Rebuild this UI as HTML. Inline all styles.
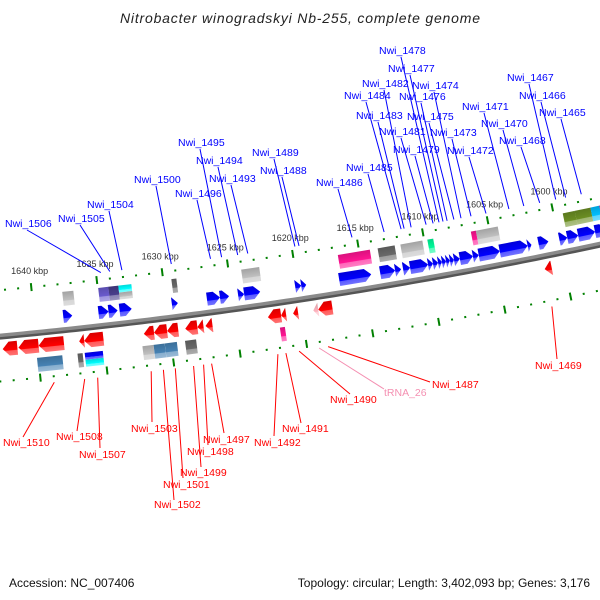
<!DOCTYPE html>
<html><head><meta charset="utf-8">
<style>
html,body{margin:0;padding:0;background:#fff;}
svg{display:block;}
text{font-family:"Liberation Sans",sans-serif;}
</style></head>
<body>
<svg id="chart" width="600" height="600" viewBox="0 0 600 600" xmlns="http://www.w3.org/2000/svg">
<defs id="defs"></defs>
<text x="300" y="23" text-anchor="middle" font-size="14" font-style="italic" fill="#222" textLength="360">Nitrobacter winogradskyi Nb-255, complete genome</text>
<g id="ticks"></g>
<g id="backbone"></g>
<g id="cogs"></g>
<g id="genes"></g>
<g id="labels"></g>
<text x="9" y="587" font-size="12" fill="#111">Accession: NC_007406</text>
<text x="590" y="587" text-anchor="end" font-size="12" fill="#111">Topology: circular; Length: 3,402,093 bp; Genes: 3,176</text>
</svg>
<script>
// ---- data (kbp) ----
const fwdStart=[1637.82,1635.15,1634.39,1633.55,1629.58,1626.91,1625.92,1624.54,1624.08,1620.19,1619.73,1616.83,1613.70,1612.56,1611.95,1611.41,1610.04,1609.66,1609.27,1608.97,1608.66,1608.36,1608.05,1607.60,1606.60,1606.15,1604.54,1602.40,1601.56,1599.96,1599.35,1598.51,1597.21];
const fwdEnd=[1637.14,1634.39,1633.70,1632.63,1629.12,1625.92,1625.23,1624.08,1622.86,1619.73,1619.35,1614.39,1612.56,1612.10,1611.41,1610.04,1609.66,1609.27,1608.97,1608.66,1608.36,1608.05,1607.60,1606.60,1606.15,1604.54,1602.40,1602.10,1600.80,1599.35,1598.51,1597.21,1596.30];
const revStart=[1642.60,1641.41,1639.89,1636.83,1636.45,1631.95,1631.18,1630.19,1628.82,1627.90,1627.29,1622.56,1621.56,1620.65,1618.74,1601.49];
const revEnd=[1641.49,1639.89,1637.98,1636.45,1635.00,1631.18,1630.19,1629.35,1627.90,1627.44,1626.76,1621.56,1621.18,1620.27,1617.67,1600.95];
const trnaStart=[1619.12];
const trnaEnd=[1618.74];
const upCogStart=[1637.70,1634.96,1634.19,1633.43,1633.43,1629.38,1624.04,1616.63,1613.58,1611.83,1609.76,1606.41,1606.02,1599.31,1598.39,1597.17,1596.48];
const upCogEnd=[1636.86,1634.19,1633.43,1632.44,1632.44,1629.00,1622.67,1614.19,1612.28,1610.15,1609.31,1606.02,1604.34,1598.39,1597.17,1596.48,1596.00];
const upCogColor=["#C0C0C0","#6A5ACD","#483D8B","#00FFFF","#C0C0C0","#696969","#C0C0C0","#FF1493","#696969","#C0C0C0","#00FA9A","#FF1493","#C0C0C0","#6B8E23","#6B8E23","#00BFFF","#FF1493"];
const upCogRow=["f","f","f","a","b","f","f","f","f","f","f","f","f","f","f","f","f"];
const loCogStart=[1640.11,1637.06,1636.52,1636.52,1632.17,1631.33,1630.49,1628.96,1621.79];
const loCogEnd=[1638.20,1636.67,1635.15,1635.15,1631.33,1630.49,1629.57,1628.12,1621.41];
const loCogColor=["#4682B4","#696969","#0000FF","#00FFFF","#C0C0C0","#4682B4","#4682B4","#696969","#FF1493"];
const loCogRow=["f","f","a","b","f","f","f","f","f"];
const tickMin=1596, tickMax=1643;
const tickLabels=[1600,1605,1610,1615,1620,1625,1630,1635,1640];
const upNames=["Nwi_1506","Nwi_1505","Nwi_1504","Nwi_1500","Nwi_1496","Nwi_1495","Nwi_1494","Nwi_1493","Nwi_1489","Nwi_1488","Nwi_1486","Nwi_1485","Nwi_1484","Nwi_1483","Nwi_1482","Nwi_1481","Nwi_1479","Nwi_1478","Nwi_1477","Nwi_1476","Nwi_1475","Nwi_1474","Nwi_1473","Nwi_1472","Nwi_1471","Nwi_1470","Nwi_1468","Nwi_1467","Nwi_1466","Nwi_1465"];
const upPos=[1634.63,1633.94,1633.02,1629.24,1626.23,1625.38,1624.15,1623.37,1619.75,1619.44,1615.36,1612.89,1611.58,1611.35,1610.81,1609.65,1609.11,1608.65,1608.34,1608.03,1607.50,1606.95,1606.18,1605.02,1603.25,1602.09,1600.86,1599.62,1598.85,1597.63];
const upTX=[5,58,87,134,175,178,196,209,252,260,316,346,344,356,362,379,393,379,388,399,407,412,430,447,462,481,499,507,519,539];
const upTY=[227,222,208,183,197,146,164,182,156,174,186,171,99,119,87,135,153,54,72,100,120,89,136,154,110,127,144,81,99,116];
const loNames=["Nwi_1510","Nwi_1508","Nwi_1507","Nwi_1503","Nwi_1502","Nwi_1501","Nwi_1499","Nwi_1498","Nwi_1497","Nwi_1492","Nwi_1491","Nwi_1490","tRNA_26","Nwi_1487","Nwi_1469"];
const loPos=[1639.0,1636.73,1635.75,1631.74,1630.83,1629.93,1628.56,1627.81,1627.21,1622.22,1621.62,1620.63,1619.12,1618.44,1601.51];
const loTX=[3,56,79,131,154,163,180,187,203,254,282,330,384,432,535];
const loTY=[446,440,458,432,508,488,476,455,443,446,432,403,396,388,369];
const loLX=[23,77,100,152,174,183,201,208,224,274,301,350,384,430,557];
const loLY=[437,431,448,422,500,478,467,445,433,436,423,394,389,382,359];
const loColor=["#FF0000","#FF0000","#FF0000","#FF0000","#FF0000","#FF0000","#FF0000","#FF0000","#FF0000","#FF0000","#FF0000","#FF0000","#F48FB1","#FF0000","#FF0000"];

// ---- geometry ----
const CX=-484, CY=-4824, R0=5182, PHI0=0.1133, K=0.002566, REF=1635;
const NS="http://www.w3.org/2000/svg";
function phi(p){return PHI0+(REF-p)*K;}
function pt(p,d){const r=R0+d,f=phi(p);return [CX+r*Math.sin(f),CY+r*Math.cos(f)];}
function mk(tag,attrs,parent){const e=document.createElementNS(NS,tag);for(const k in attrs)e.setAttribute(k,attrs[k]);parent.appendChild(e);return e;}

const defs=document.getElementById('defs');
const grads={};
function shade(hex,f){const n=parseInt(hex.slice(1),16);let r=n>>16,g=(n>>8)&255,b=n&255;
  if(f>0){r=r+(255-r)*f;g=g+(255-g)*f;b=b+(255-b)*f;}else{r*=1+f;g*=1+f;b*=1+f;}
  return 'rgb('+Math.round(r)+','+Math.round(g)+','+Math.round(b)+')';}
function grad(c){if(grads[c])return grads[c];const id='g'+c.slice(1);
  const lg=mk('linearGradient',{id:id,x1:0,y1:0,x2:0,y2:1},defs);
  mk('stop',{offset:'0','stop-color':shade(c,-0.15)},lg);
  mk('stop',{offset:'0.62','stop-color':c},lg);
  mk('stop',{offset:'0.66','stop-color':shade(c,0.35)},lg);
  mk('stop',{offset:'1','stop-color':shade(c,0.45)},lg);
  grads[c]='url(#'+id+')';return grads[c];}

function feature(parent,p1,p2,d1,d2,color,kind,name){
  const pc=(p1+p2)/2, L=Math.abs(p1-p2)*R0*K, c=pt(pc,0);
  const g=mk('g',{transform:'translate('+c[0].toFixed(2)+','+c[1].toFixed(2)+') rotate('+(-phi(pc)*180/Math.PI).toFixed(3)+')'},parent);
  
  
  const x0=-L/2,x1=L/2,h=Math.min(L,6.5);
  let pts;
  if(kind==='fwd')pts=[[x0,d1],[x1-h,d1],[x1,(d1+d2)/2],[x1-h,d2],[x0,d2]];
  else if(kind==='rev')pts=[[x1,d1],[x0+h,d1],[x0,(d1+d2)/2],[x0+h,d2],[x1,d2]];
  else pts=[[x0,d1],[x1,d1],[x1,d2],[x0,d2]];
  mk('polygon',{points:pts.map(q=>q[0].toFixed(2)+','+q[1].toFixed(2)).join(' '),fill:grad(color)},g);
}

// ticks
const tg=document.getElementById('ticks');
for(let p=tickMin;p<=tickMax;p++){
  [-45,46].forEach(function(d){
    const major=(p%5===0);
    const c=pt(p,d), f=phi(p);
    const t=mk('rect',{x:-1,y:major?-4:-1,width:2,height:major?8:2,fill:'#008000',
      transform:'translate('+c[0].toFixed(2)+','+c[1].toFixed(2)+') rotate('+(-f*180/Math.PI).toFixed(2)+')'},tg);
    
    
  });
}
tickLabels.forEach(function(p){
  const c=pt(p,-61);
  const t=mk('text',{x:c[0].toFixed(1),y:(c[1]+3).toFixed(1),'text-anchor':'middle','font-size':'9',fill:'#333'},tg);
  t.textContent=p+' kbp';
  
  
});

// backbone
const bb=document.getElementById('backbone');
function arc(d){let s='';for(let p=1646;p>=1593;p-=0.5){const c=pt(p,d);s+=(s?'L':'M')+c[0].toFixed(2)+','+c[1].toFixed(2);}return s;}
const bs=mk('path',{d:arc(2.5),fill:'none',stroke:'#555','stroke-width':3.5},bb);


const bl=mk('path',{d:arc(0),fill:'none',stroke:'#8a8a8a','stroke-width':3.5},bb);



// cogs
const cg=document.getElementById('cogs');
function rowD(base,row){ if(row==='a')return [base[0],(base[0]+base[1])/2]; if(row==='b')return [(base[0]+base[1])/2,base[1]]; return base;}
upCogStart.forEach(function(s,i){const d=rowD([-37,-23],upCogRow[i]);feature(cg,s,upCogEnd[i],d[0],d[1],upCogColor[i],'box','cog-box-upper');});
loCogStart.forEach(function(s,i){const d=rowD([26,40],loCogRow[i]);feature(cg,s,loCogEnd[i],d[0],d[1],loCogColor[i],'box','cog-box-lower');});

// genes
const gg=document.getElementById('genes');
fwdStart.forEach(function(s,i){feature(gg,s,fwdEnd[i],-19,-6,'#0000FF','fwd','forward-gene');});
revStart.forEach(function(s,i){feature(gg,s,revEnd[i],7,21,'#FF0000','rev','reverse-gene');});
trnaStart.forEach(function(s,i){feature(gg,s,trnaEnd[i],7,21,'#FFB6C1','rev','trna-gene');});

// labels
const lg=document.getElementById('labels');
upNames.forEach(function(n,i){
  const e=pt(upPos[i],-52);
  const l=mk('line',{x1:upTX[i]+22,y1:upTY[i]+3,x2:e[0].toFixed(1),y2:e[1].toFixed(1),stroke:'#0000FF','stroke-width':1},lg);
  
  
  const t=mk('text',{x:upTX[i],y:upTY[i],'font-size':'10.5',fill:'#0000FF'},lg);
  t.textContent=n;
  
  
});
loNames.forEach(function(n,i){
  const e=pt(loPos[i],52);
  const l=mk('line',{x1:loLX[i],y1:loLY[i],x2:e[0].toFixed(1),y2:e[1].toFixed(1),stroke:loColor[i],'stroke-width':1},lg);
  
  
  const t=mk('text',{x:loTX[i],y:loTY[i],'font-size':'10.5',fill:loColor[i]},lg);
  t.textContent=n;
  
  
});
</script>
</body></html>
